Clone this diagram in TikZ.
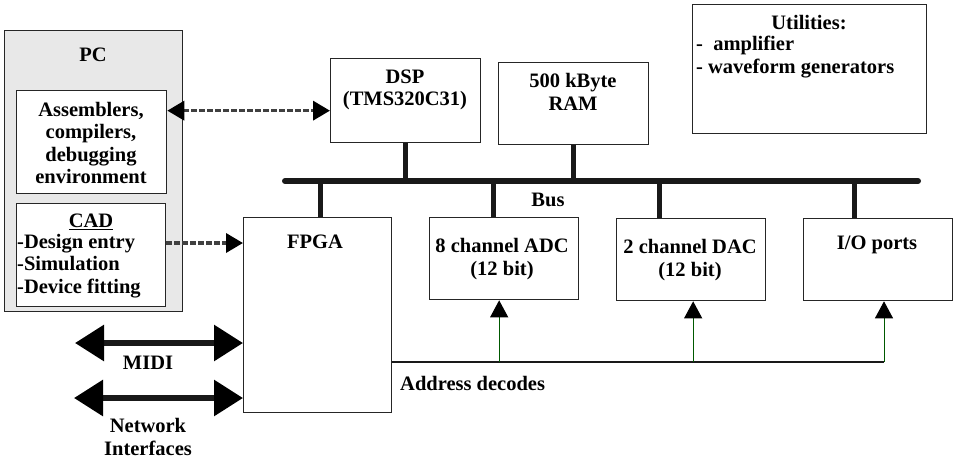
\documentclass[tikz,border=0pt]{standalone}
\usepackage{fontspec}
\setmainfont{Liberation Serif}
\usetikzlibrary{arrows.meta,calc}

\tikzset{
  dtip/.tip={Triangle[length=17pt,width=19pt,color=black]},
  ftip/.tip={Triangle[length=29pt,width=35pt,color=black]},
  stip/.tip={Triangle[length=17pt,width=18pt,color=black]},
  blk/.style={draw=black!85, line width=1.3pt, fill=white, anchor=north west, inner sep=0pt},
  lbl/.style={font=\bfseries\fontsize{20.5}{22.5}\selectfont, align=center, inner sep=0pt},
  busline/.style={line width=6pt, line cap=round, black!90},
  tap/.style={line width=5pt, black!90},
  addrline/.style={line width=2.6pt, black!90},
  sense/.style={line width=1pt, green!35!black, -stip},
  dasharr/.style={line width=3.5pt, black!75, dash pattern=on 6pt off 2pt},
  fat/.style={line width=6pt, black!90, ftip-ftip}
}

\begin{document}
\begin{tikzpicture}[x=1pt,y=-1pt]
		\useasboundingbox (0,0) rectangle (955,459);
		
		%%%%% BOXES %%%%%
		\node[blk, fill=black!9, minimum width=178pt, minimum height=281pt] (pc) at (4,30) {};
		\node[blk, minimum width=150pt, minimum height=103pt] (asm) at (16,90) {};
		\node[blk, minimum width=149pt, minimum height=103pt] (cad) at (16,203) {};
		\node[blk, minimum width=150pt, minimum height=84pt] (dsp) at (330,58) {};
		\node[blk, minimum width=150pt, minimum height=82pt] (ram) at (498,62) {};
		\node[blk, minimum width=234pt, minimum height=129pt] (util) at (692,4) {};
		\node[blk, minimum width=148pt, minimum height=195pt] (fpga) at (243,217) {};
		\node[blk, minimum width=149pt, minimum height=82pt] (adc) at (429,217) {};
		\node[blk, minimum width=149pt, minimum height=82pt] (dac) at (616,218) {};
		\node[blk, minimum width=149pt, minimum height=82pt] (io) at (803,218) {};
		
		%%%%% TEXTS %%%%%
		\node[lbl] (pc-t) at (93,55) {PC};
		\node[lbl] (asm-t) at (91,143) {Assemblers,\\compilers,\\debugging\\environment};
		\node[lbl] (cad-t) at (91,222) {\underline{CAD}};
		\node[lbl, align=left, anchor=west] (cad-l) at (17,266) {-Design entry\\-Simulation\\-Device fitting};
		\node[lbl] (dsp-t) at (405,90) {DSP\\(TMS320C31)};
		\node[lbl] (ram-t) at (573,92) {500 kByte\\RAM};
		\node[lbl] (util-t) at (809,23) {Utilities:};
		\node[lbl, align=left, anchor=west] (util-l) at (696,57) {-\ \ amplifier\\- waveform generators};
		\node[lbl] (fpga-t) at (315,242) {FPGA};
		\node[lbl] (adc-t) at (502,259) {8 channel ADC\\(12 bit)};
		\node[lbl] (dac-t) at (690,260) {2 channel DAC\\(12 bit)};
		\node[lbl] (io-t) at (877,245) {I/O ports};
		\node[lbl] (bus-t) at (548,200) {Bus};
		\node[lbl] (midi-t) at (148,363) {MIDI};
		\node[lbl] (net-t) at (148,437) {Network\\Interfaces};
		\node[lbl, anchor=west] (addr-t) at (400,383) {Address decodes};
		
		%%%%% BUS %%%%%
		\coordinate (bus-l) at (285,181);
		\coordinate (bus-r) at (918,181);
		\draw[busline] (bus-l) -- (bus-r);
		\draw[tap] (dsp.south) -- (dsp.south |- bus-l);
		\draw[tap] (ram.south) -- (ram.south |- bus-l);
		\draw[tap] ([xshift=3pt]fpga.north) -- ([xshift=3pt]fpga.north |- bus-l);
		\draw[tap] ([xshift=-11pt]adc.north) -- ([xshift=-11pt]adc.north |- bus-l);
		\draw[tap] ([xshift=-32pt]dac.north) -- ([xshift=-32pt]dac.north |- bus-l);
		\draw[tap] ([xshift=-24pt]io.north) -- ([xshift=-24pt]io.north |- bus-l);
		
		%%%%% ADDRESS DECODES %%%%%
		\coordinate (addr-r) at (884,362);
		\draw[addrline] (fpga.east |- addr-r) -- (addr-r);
		\draw[sense] ([xshift=-5pt]adc.south |- addr-r) -- ([xshift=-5pt]adc.south);
		\draw[sense] ([xshift=2pt]dac.south |- addr-r) -- ([xshift=2pt]dac.south);
		\draw[sense] (addr-r) -- (addr-r |- io.south);
		
		%%%%% PC LINKS %%%%%
		\coordinate (dsp-in) at ([yshift=-10pt]dsp.west);
		\draw[dasharr, dtip-dtip] (asm.east |- dsp-in) -- (dsp-in);
		\coordinate (fpga-in) at ([yshift=-26pt]fpga.north west);
		\draw[dasharr, -dtip] (cad.east |- fpga-in) -- (fpga-in);
		
		%%%%% MIDI / NETWORK %%%%%
		\coordinate (midi-in) at ([yshift=-126pt]fpga.north west);
		\coordinate (midi-out) at (75,343);
		\draw[fat] (midi-out) -- (midi-in);
		\coordinate (net-in) at ([yshift=-181pt]fpga.north west);
		\coordinate (net-out) at (74,398);
		\draw[fat] (net-out) -- (net-in);
		
	\end{tikzpicture}
\end{document}
